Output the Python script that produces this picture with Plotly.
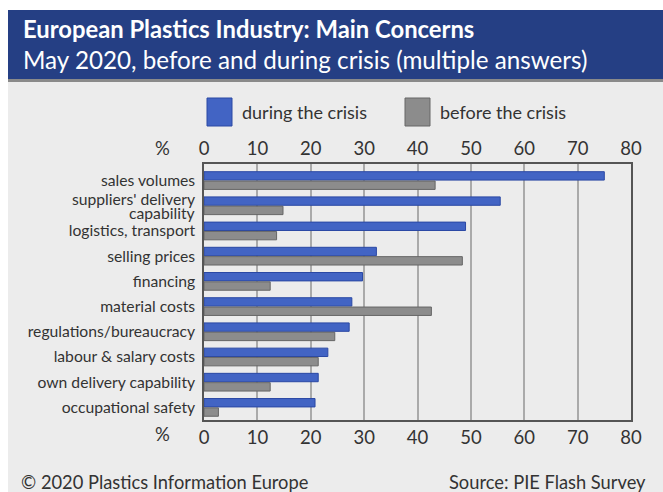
import plotly.graph_objects as go

categories = ["sales volumes", "suppliers' delivery capability", "logistics, transport",
              "selling prices", "financing", "material costs", "regulations/bureaucracy",
              "labour & salary costs", "own delivery capability", "occupational safety"]
during = [75, 55.5, 49, 32.3, 29.7, 27.7, 27.2, 23.2, 21.4, 20.8]
before = [43.3, 14.8, 13.6, 48.4, 12.4, 42.6, 24.5, 21.4, 12.4, 2.7]
tick_vals = [0, 10, 20, 30, 40, 50, 60, 70, 80]
tick_text = ["0", "10", "20", "30", "40", "50", "60", "70", "80"]
# labels that are wrapped onto two tight lines
wrapped = {"suppliers' delivery capability": ["suppliers' delivery", "capability"]}

W, H = 663, 492
L, R, T, B = 204, 32, 164, 72
PW, PH = W - L - R, H - T - B

def px(x):
    return (x - L) / PW

def py(y):
    return (H - B - y) / PH

FONT = "Lato"
TXT = "#333333"
CAT_SIZE = 15.7

fig = go.Figure()
fig.add_trace(go.Bar(y=categories, x=during, orientation="h", name="during the crisis",
                     marker=dict(color="#4264c4", line=dict(color="#2a48a4", width=1)),
                     showlegend=False))
fig.add_trace(go.Bar(y=categories, x=before, orientation="h", name="before the crisis",
                     marker=dict(color="#8c8c8c", line=dict(color="#666666", width=1)),
                     showlegend=False))
# invisible trace for top axis
fig.add_trace(go.Scatter(x=[0, 80], y=[categories[0], categories[0]], xaxis="x2",
                         mode="markers", marker=dict(opacity=0), showlegend=False,
                         hoverinfo="skip"))

axis_common = dict(range=[0, 80], tickvals=tick_vals, ticktext=tick_text,
                   tickfont=dict(family=FONT, size=18.5, color=TXT),
                   showline=True, linecolor="#555555", linewidth=1.5, ticks="")

cat_ticktext = ["" if c in wrapped else c for c in categories]

fig.update_layout(
    width=W, height=H,
    margin=dict(l=L, r=R, t=T, b=B),
    paper_bgcolor="white",
    plot_bgcolor="#ececec",
    barmode="group", bargap=0.26, bargroupgap=0.1,
    xaxis=dict(**axis_common, side="bottom", showgrid=True, gridcolor="#aaaaaa",
               gridwidth=1.5, mirror=True, zeroline=False),
    xaxis2=dict(**axis_common, side="top", overlaying="x", matches="x",
                showgrid=False, zeroline=False),
    yaxis=dict(autorange="reversed", showline=True, linecolor="#555555", linewidth=1.5,
               mirror=True, ticks="", tickfont=dict(family=FONT, size=CAT_SIZE, color=TXT),
               tickmode="array", tickvals=categories, ticktext=cat_ticktext,
               ticklabelstandoff=4),
    font=dict(family=FONT),
)

shapes = []
shapes.append(dict(type="rect", xref="paper", yref="paper", x0=px(8), x1=px(663),
                   y0=py(492), y1=py(82), fillcolor="#ececec", line=dict(width=0), layer="below"))
shapes.append(dict(type="rect", xref="paper", yref="paper", x0=px(8), x1=px(663),
                   y0=py(82), y1=py(78), fillcolor="#8a8a8a", line=dict(width=0), layer="below"))
shapes.append(dict(type="rect", xref="paper", yref="paper", x0=px(8), x1=px(663),
                   y0=py(79), y1=py(10), fillcolor="#253f84", line=dict(width=0), layer="below"))
shapes.append(dict(type="rect", xref="paper", yref="paper", x0=px(207), x1=px(232),
                   y0=py(126), y1=py(98), fillcolor="#4264c4", line=dict(color="#2a48a4", width=1)))
shapes.append(dict(type="rect", xref="paper", yref="paper", x0=px(405), x1=px(430),
                   y0=py(126), y1=py(98), fillcolor="#8c8c8c", line=dict(color="#666666", width=1)))
fig.update_layout(shapes=shapes)

ann = []
def add_text(text, x, y, size, color=TXT, anchor="left", bold=False):
    t = f"<b>{text}</b>" if bold else text
    ann.append(dict(text=t, xref="paper", yref="paper", x=px(x), y=py(y), xanchor=anchor,
                    yanchor="middle", showarrow=False,
                    font=dict(family=FONT, size=size, color=color)))

add_text("European Plastics Industry: Main Concerns", 21, 29, 23.8, "white", bold=True)
add_text("May 2020, before and during crisis (multiple answers)", 21, 59, 24.2, "white")
add_text("during the crisis", 240, 112, 18)
add_text("before the crisis", 438, 112, 18)
add_text("%", 162, 148, 18.5, anchor="center")
add_text("%", 162, 434, 18.5, anchor="center")
add_text("© 2020 Plastics Information Europe", 19, 482, 18.3)
add_text("Source: PIE Flash Survey", 648, 482, 18.3, anchor="right")

for cat, lines in wrapped.items():
    for i, line in enumerate(lines):
        ann.append(dict(text=line, xref="paper", yref="y", x=px(197), y=cat,
                        xanchor="right", yanchor="middle", showarrow=False,
                        yshift=7 - 14 * i,
                        font=dict(family=FONT, size=CAT_SIZE, color=TXT)))
fig.update_layout(annotations=ann)

fig.write_html("out.html", post_script="document.body.style.margin='0px';",
               config={"displayModeBar": False})
